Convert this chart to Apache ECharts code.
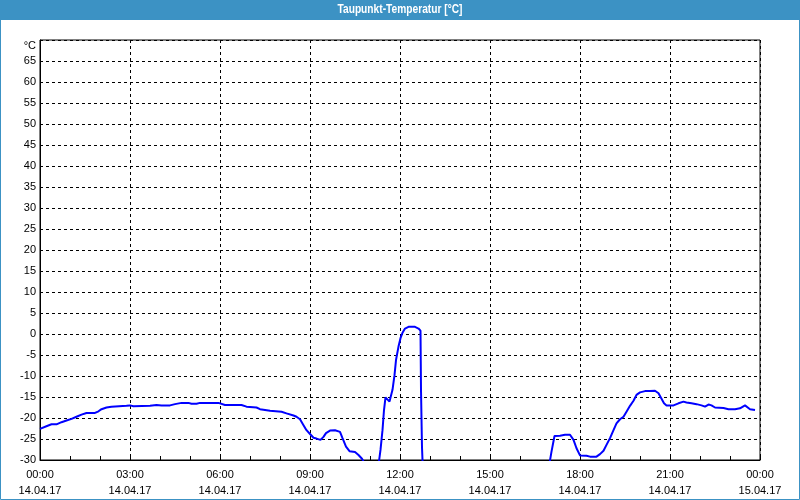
<!DOCTYPE html>
<html>
<head>
<meta charset="utf-8">
<script src="https://cdn.jsdelivr.net/npm/echarts@6/dist/echarts.min.js"></script>
<style>html,body{margin:0;padding:0;background:#fff}#c{width:800px;height:500px}</style>
</head>
<body>
<div id="c"></div>
<script>
// minutes since 14.04.17 00:00
var minutes = [0,14,23,33,43,53,63,73,83,93,110,117,123,133,143,173,180,187,220,233,243,260,270,283,297,303,313,320,357,360,370,403,413,433,440,460,483,493,507,513,520,527,533,540,547,553,561,567,572,580,590,600,605,612,619,630,637,644,650,660,670,678,681,685,688,691,695,699,702,705,709,712,717,721,725,730,737,750,757,761,762,764,767,800,850,900,950,1000,1018,1023,1029,1040,1050,1060,1067,1073,1080,1093,1100,1113,1120,1127,1133,1140,1147,1153,1160,1167,1173,1180,1187,1193,1200,1210,1220,1230,1237,1240,1248,1253,1267,1277,1287,1293,1303,1313,1323,1330,1337,1343,1350,1367,1377,1390,1400,1410,1420,1430];
var dewPoint = [-22.6,-21.9,-21.5,-21.5,-21.0,-20.6,-20.2,-19.7,-19.2,-18.8,-18.8,-18.4,-17.9,-17.5,-17.3,-17.1,-17.0,-17.2,-17.1,-16.9,-17.0,-17.0,-16.7,-16.4,-16.4,-16.6,-16.6,-16.4,-16.4,-16.5,-16.9,-16.9,-17.3,-17.5,-17.9,-18.3,-18.5,-18.9,-19.4,-19.7,-20.3,-21.7,-22.9,-23.8,-24.7,-24.9,-25.2,-24.5,-23.6,-23.0,-22.9,-23.3,-24.8,-26.8,-27.9,-28.1,-28.8,-29.7,-31,-33,-33,-30.3,-27.6,-22.9,-18.1,-15.1,-15.1,-16.1,-15.7,-13.3,-9.8,-6.2,-3.0,-1.0,0.3,1.3,1.7,1.7,1.3,0.8,-13.3,-27,-36,-38,-38,-37,-36,-34,-31.5,-28.0,-24.3,-24.2,-24.0,-24.0,-25.2,-27.2,-28.9,-29.0,-29.2,-29.2,-28.6,-27.8,-26.4,-24.8,-22.9,-21.3,-20.3,-19.7,-18.5,-17.1,-15.9,-14.5,-13.9,-13.6,-13.6,-13.5,-14.1,-14.5,-16.5,-17.0,-17.0,-16.5,-16.1,-16.3,-16.5,-16.7,-17.0,-17.3,-16.8,-17.0,-17.5,-17.6,-17.9,-17.9,-17.7,-17.0,-17.9,-18.1];
var tickMinutes = [0,180,360,540,720,900,1080,1260,1440];
var tickTimes = ['00:00','03:00','06:00','09:00','12:00','15:00','18:00','21:00','00:00'];
var tickDates = ['14.04.17','14.04.17','14.04.17','14.04.17','14.04.17','14.04.17','14.04.17','14.04.17','15.04.17'];
var titleText = 'Taupunkt-Temperatur [°C]';
var unitLabel = '°C';

var seriesData = minutes.map(function(m,i){return [m, dewPoint[i]];});
var chart = echarts.init(document.getElementById('c'), null, {renderer:'canvas'});
var font = 'Liberation Sans';
chart.setOption({
  animation:false,
  backgroundColor:'#ffffff',
  grid:{left:40,right:40,top:40,bottom:40,show:true,borderColor:'#000',borderWidth:1,backgroundColor:'transparent'},
  graphic:[
    {type:'rect',shape:{x:0,y:0,width:800,height:20},style:{fill:'#3c92c4'},z:0},
    {type:'rect',shape:{x:0.5,y:0.5,width:799,height:499},style:{fill:null,stroke:'#3c92c4',lineWidth:1},z:0},
    {type:'text',x:400,y:10,scaleX:0.85,style:{text:titleText,fill:'#fff',font:'bold 12px "Liberation Sans", sans-serif',align:'center',verticalAlign:'middle'},z:10}
  ],
  xAxis:{
    type:'value',min:0,max:1440,interval:180,
    axisLine:{show:true,onZero:false,lineStyle:{color:'#000',width:1}},
    axisTick:{show:true,inside:true,length:4,lineStyle:{color:'#000'}},
    minorTick:{show:true,splitNumber:3,length:4,lineStyle:{color:'#000'}},
    splitLine:{show:true,lineStyle:{color:'#000',type:[3,3],width:1}},
    axisLabel:{color:'#000',fontFamily:font,fontSize:11,lineHeight:16,margin:7,
      formatter:function(v){var i=tickMinutes.indexOf(v);return i<0?'':tickTimes[i]+'\n'+tickDates[i];}}
  },
  yAxis:{
    type:'value',min:-30,max:70,interval:5,
    axisLine:{show:true,onZero:false,lineStyle:{color:'#000',width:1}},
    axisTick:{show:false},
    splitLine:{show:true,lineStyle:{color:'#000',type:[3,3],width:1}},
    axisLabel:{color:'#000',fontFamily:font,fontSize:11,margin:4,
      formatter:function(v){return v===70?'{u|'+unitLabel+'}':String(v);},
      rich:{u:{fontFamily:font,fontSize:11,color:'#000',padding:[12,0,0,0]}}}
  },
  series:[{
    type:'line',data:seriesData,showSymbol:false,symbol:'none',clip:true,
    lineStyle:{color:'#0000ff',width:2},z:5
  }]
});
</script>
</body>
</html>
